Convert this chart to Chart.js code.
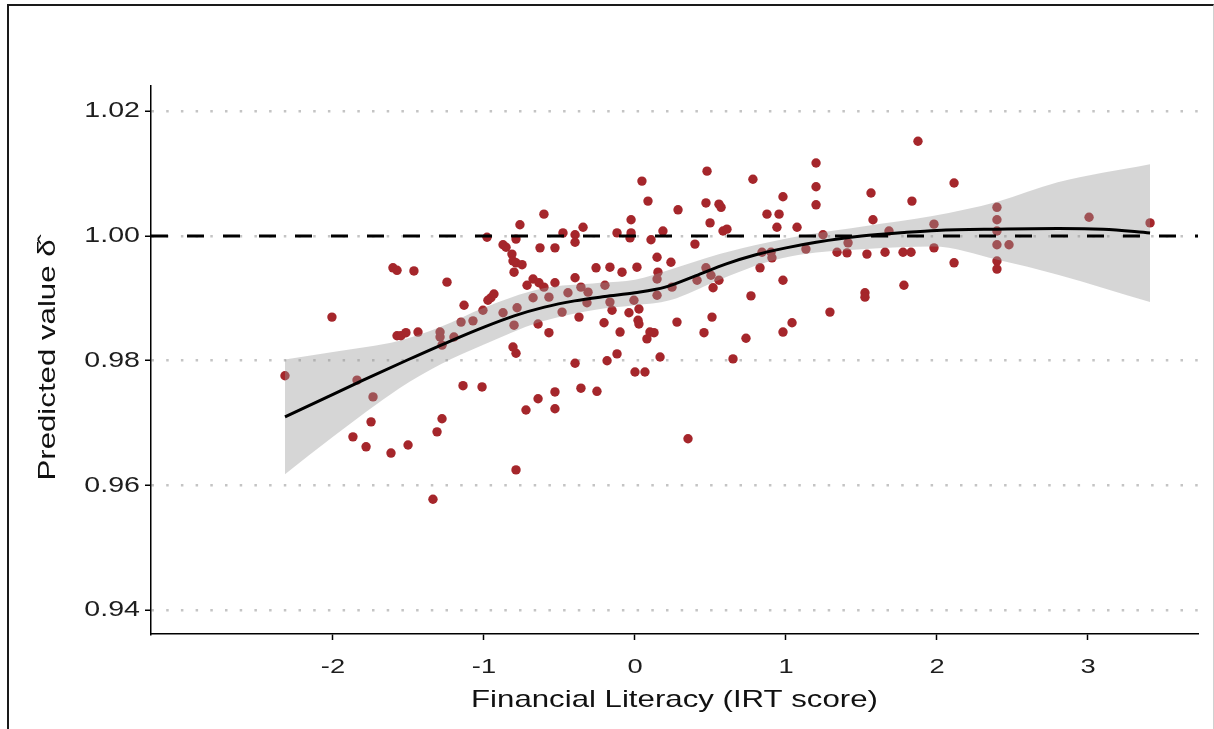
<!DOCTYPE html>
<html><head><meta charset="utf-8">
<script src="https://cdn.jsdelivr.net/npm/chart.js@4/dist/chart.umd.min.js"></script>
<style>
html,body{margin:0;padding:0;background:#fff;}
#wrap{position:relative;width:1214px;height:729px;overflow:hidden;}
#frame{position:absolute;left:7px;top:4px;right:0;bottom:-5px;border-top:2px solid #1a1a1a;border-left:2px solid #1a1a1a;border-right:1px solid #d0d0d0;pointer-events:none;box-sizing:border-box;}
canvas{position:absolute;left:0;top:0;}
</style></head><body>
<div id="wrap"><canvas id="c" width="1214" height="729"></canvas><div id="frame"></div></div>
<script>
// ---- data ----
const xTicks = [-2, -1, 0, 1, 2, 3];
const yTicks = [0.94, 0.96, 0.98, 1.00, 1.02];

const pointsX = [-2.318,-2.007,-1.603,-1.576,-1.464,-1.245,-1.132,-1.007,-0.974,-1.073,-1.152,-1.576,-1.550,-1.517,-1.437,-1.291,-1.291,-1.278,-1.199,-1.841,-1.735,-1.748,-1.868,-1.781,-1.616,-1.503,-1.311,-1.278,-1.139,-1.013,-1.338,
-0.980,-0.874,-0.854,-0.815,-0.808,-0.788,-0.748,-0.801,-0.762,-0.788,-0.603,-0.629,-0.530,-0.477,-0.397,-0.397,-0.344,-0.258,-0.166,-0.086,-0.119,-0.026,-0.026,-0.033,0.046,0.013,-0.954,-0.934,
-0.874,-0.801,-0.781,-0.715,-0.675,-0.636,-0.603,-0.530,-0.675,-0.570,-0.642,-0.570,-0.483,-0.444,-0.397,-0.358,-0.311,-0.318,-0.371,-0.199,-0.166,-0.152,-0.205,-0.099,-0.040,-0.007,0.020,0.026,
-0.808,-0.788,-0.397,-0.185,-0.119,0.000,-0.642,-0.530,-0.358,-0.252,-0.722,-0.530,-0.788,
0.086,0.477,0.781,0.285,0.470,0.556,0.570,0.497,0.583,0.609,0.185,0.106,0.980,0.874,0.954,0.940,1.073,0.397,0.146,0.238,0.152,0.146,0.146,0.245,0.411,0.470,0.503,0.556,0.517,0.841,0.901,0.907,0.828,0.980,0.768,0.026,0.278,0.510,0.457,0.099,0.126,0.079,0.735,0.980,1.040,0.166,0.649,0.066,0.351,
1.199,1.199,1.199,1.563,1.576,1.682,1.874,1.834,2.113,1.980,1.245,1.132,1.338,1.404,1.411,1.536,1.656,1.775,1.828,1.980,2.113,1.781,1.523,1.523,1.291,
2.397,2.397,2.397,2.397,2.397,2.397,2.477,3.007,3.411];

const pointsY = [0.9776,0.9870,0.9949,0.9945,0.9944,0.9926,0.9889,0.9881,0.9897,0.9864,0.9862,0.9840,0.9840,0.9845,0.9846,0.9846,0.9838,0.9825,0.9838,0.9769,0.9742,0.9702,0.9678,0.9662,0.9652,0.9665,0.9686,0.9707,0.9760,0.9758,0.9578,
0.9998,0.9986,0.9982,0.9971,0.9960,0.9957,0.9954,0.9942,1.0018,0.9995,1.0035,0.9981,0.9981,1.0005,1.0002,0.9990,1.0014,0.9949,0.9950,0.9942,1.0005,1.0026,1.0005,0.9997,1.0088,0.9950,0.9901,0.9907,
0.9877,0.9857,0.9885,0.9921,0.9931,0.9925,0.9918,0.9925,0.9901,0.9902,0.9859,0.9845,0.9878,0.9909,0.9933,0.9918,0.9910,0.9893,0.9870,0.9921,0.9894,0.9881,0.9861,0.9846,0.9877,0.9897,0.9865,0.9859,
0.9822,0.9812,0.9796,0.9800,0.9811,0.9782,0.9739,0.9750,0.9756,0.9751,0.9721,0.9723,0.9625,
1.0056,1.0104,1.0091,1.0042,1.0053,1.0051,1.0046,1.0021,1.0008,1.0011,1.0008,0.9994,1.0063,1.0035,1.0035,1.0014,1.0014,0.9987,0.9966,0.9958,0.9942,0.9931,0.9905,0.9918,0.9929,0.9949,0.9937,0.9929,0.9917,0.9974,0.9974,0.9965,0.9949,0.9929,0.9904,0.9883,0.9862,0.9870,0.9845,0.9846,0.9845,0.9835,0.9836,0.9846,0.9861,0.9806,0.9803,0.9782,0.9675,
1.0117,1.0079,1.0050,1.0069,1.0026,1.0008,1.0152,1.0056,1.0085,1.0019,1.0002,0.9979,0.9974,0.9973,0.9989,0.9971,0.9974,0.9974,0.9974,0.9981,0.9957,0.9921,0.9909,0.9902,0.9878,
1.0046,1.0026,1.0008,0.9986,0.9960,0.9947,0.9986,1.0030,1.0021];

const curveX = [-2.318,-2.0,-1.8,-1.5,-1.2,-1.0,-0.8,-0.6,-0.4,-0.2,0.0,0.2,0.4,0.6,0.8,1.0,1.2,1.5,1.8,2.0,2.4,2.8,3.1,3.411];
const curveY = [0.9710,0.9746,0.9769,0.9802,0.9834,0.9854,0.9872,0.9886,0.9896,0.9903,0.9909,0.9918,0.9936,0.9955,0.9970,0.9981,0.9990,1.0000,1.0006,1.0009,1.0011,1.0012,1.0011,1.0005];

const bandX     = [-2.318,-2.0,-1.56,-1.29,-1.0,-0.63,-0.23,0.0,0.23,0.56,0.87,1.09,1.53,1.97,2.4,2.8,3.411];
const bandUpper = [0.9802,0.9814,0.9832,0.9854,0.9885,0.9915,0.9925,0.9930,0.9946,0.9971,0.9989,1.0000,1.0016,1.0032,1.0055,1.0086,1.0115];
const bandLower = [0.9618,0.9678,0.9756,0.9794,0.9826,0.9862,0.9883,0.9889,0.9897,0.9930,0.9958,0.9970,0.9979,0.9983,0.9962,0.9938,0.9894];

const refLineY = 1.00;
const xMin = -3.2053, xMax = 3.7285;
const yMin = 0.93619, yMax = 1.02405;

// ---- chart ----
const pts = (xs, ys) => xs.map((x, i) => ({x: x, y: ys[i]}));
Chart.defaults.font.family = "'Liberation Sans', Arial, sans-serif";

// the reference typeface is wide; draw the real text horizontally stretched
const SX = 1.3;
const wideText = {
  id: 'wideText',
  beforeInit(chart) {
    const ctx = chart.ctx;
    const of = ctx.fillText, om = ctx.measureText;
    ctx.fillText = function (t, x, y, mw) {
      this.save();
      this.translate(x, y);
      this.scale(SX, 1);
      if (mw !== undefined && mw !== null) of.call(this, t, 0, 0, mw / SX); else of.call(this, t, 0, 0);
      this.restore();
    };
    ctx.measureText = function (t) {
      const m = om.call(this, t);
      return { width: m.width * SX,
               actualBoundingBoxAscent: m.actualBoundingBoxAscent,
               actualBoundingBoxDescent: m.actualBoundingBoxDescent,
               actualBoundingBoxLeft: m.actualBoundingBoxLeft * SX,
               actualBoundingBoxRight: m.actualBoundingBoxRight * SX };
    };
  }
};

new Chart(document.getElementById('c').getContext('2d'), {
  type: 'scatter',
  plugins: [wideText],
  data: {
    datasets: [
      { label: 'ref', data: [{x: xMin, y: refLineY}, {x: xMax, y: refLineY}], showLine: true, borderColor: '#000',
        borderWidth: 3, borderDash: [17, 19], borderCapStyle: 'butt', pointRadius: 0, fill: false, order: 0 },
      { label: 'fit', data: pts(curveX, curveY), showLine: true, borderColor: '#000', borderWidth: 3,
        pointRadius: 0, cubicInterpolationMode: 'monotone', fill: false, order: 1 },
      { label: 'lower', data: pts(bandX, bandLower), showLine: true, borderColor: 'rgba(0,0,0,0)', borderWidth: 0,
        pointRadius: 0, cubicInterpolationMode: 'monotone', fill: false, order: 2 },
      { label: 'upper', data: pts(bandX, bandUpper), showLine: true, borderColor: 'rgba(0,0,0,0)', borderWidth: 0,
        pointRadius: 0, cubicInterpolationMode: 'monotone', fill: {target: 2}, backgroundColor: 'rgba(153,153,153,0.4)', order: 2 },
      { label: 'obs', data: pts(pointsX, pointsY), showLine: false, backgroundColor: '#a5262b', borderWidth: 0,
        pointRadius: 4.7, pointHoverRadius: 4.7, order: 3 }
    ]
  },
  options: {
    responsive: false,
    animation: false,
    layout: { padding: { top: 86, right: 16, left: 0, bottom: 0 } },
    plugins: { legend: { display: false }, tooltip: { enabled: false } },
    scales: {
      x: {
        type: 'linear', min: xMin, max: xMax,
        afterBuildTicks: s => { s.ticks = xTicks.map(v => ({value: v})); },
        afterFit: s => { s.height = 95; },
        ticks: { autoSkip: false, maxRotation: 0, color: '#1e1e1e', font: { size: 21 }, padding: 15,
                 callback: v => String(v) },
        grid: { drawOnChartArea: false, drawTicks: true, tickLength: 6, tickColor: '#000', tickWidth: 1.5 },
        border: { color: '#000', width: 1.5 },
        title: { display: true, text: 'Financial Literacy (IRT score)', color: '#111', font: { size: 24 },
                 padding: { top: 0, bottom: 14 } }
      },
      y: {
        type: 'linear', min: yMin, max: yMax,
        afterBuildTicks: s => { s.ticks = yTicks.map(v => ({value: v})); },
        afterFit: s => { s.width = 151; },
        ticks: { autoSkip: false, color: '#1e1e1e', font: { size: 22 }, padding: 5,
                 callback: v => Number(v).toFixed(2) },
        grid: { drawOnChartArea: true, color: '#c4c4c4', lineWidth: 2.5, drawTicks: true, tickLength: 6,
                tickColor: '#000', tickWidth: 1.5, tickBorderDash: [] },
        border: { color: '#000', width: 1.5, dash: [2.5, 12.2] },
        title: { display: true, text: 'Predicted value \u03B4\u0302', color: '#111', font: { size: 24 },
                 padding: { top: 34, bottom: 0 } }
      }
    }
  }
});
</script>
</body></html>
